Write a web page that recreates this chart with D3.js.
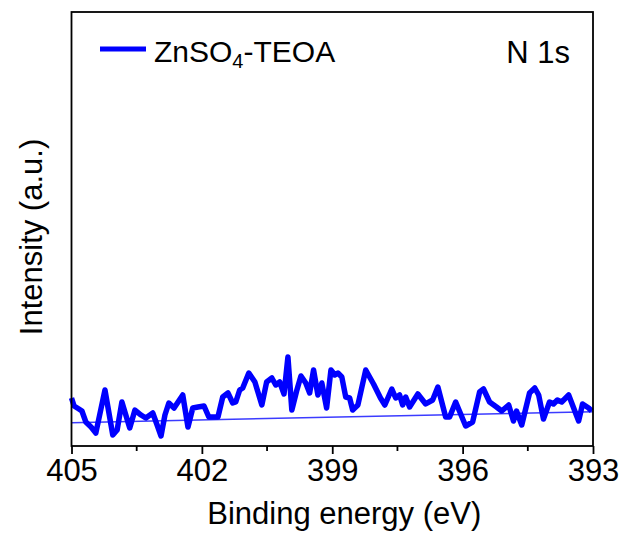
<!DOCTYPE html>
<html>
<head>
<meta charset="utf-8">
<script src="https://cdn.jsdelivr.net/npm/d3@7"></script>
<style>
  html, body { margin: 0; padding: 0; background: #ffffff; }
  svg { display: block; }
  text { font-family: Arial, "Liberation Sans", sans-serif; fill: #000; }
</style>
</head>
<body>
<svg id="chart" width="620" height="533"></svg>
<script>
// ---- data ----
const bindingEnergy = [
  405.00, 404.94, 404.83, 404.76, 404.67, 404.55, 404.44, 404.23, 404.05, 403.95,
  403.84, 403.66, 403.54, 403.40, 403.29, 403.13, 403.03, 402.94, 402.85, 402.76,
  402.64, 402.44, 402.32, 402.21, 402.09, 401.95, 401.84, 401.63, 401.52, 401.40,
  401.29, 401.22, 401.13, 401.06, 400.92, 400.78, 400.62, 400.51, 400.39, 400.30,
  400.21, 400.11, 400.02, 399.93, 399.82, 399.72, 399.61, 399.52, 399.43, 399.33,
  399.24, 399.13, 399.03, 398.94, 398.87, 398.78, 398.69, 398.60, 398.53, 398.41,
  398.23, 398.05, 397.89, 397.79, 397.63, 397.54, 397.45, 397.38, 397.31, 397.22,
  397.03, 396.85, 396.69, 396.57, 396.39, 396.30, 396.16, 395.93, 395.77, 395.61,
  395.52, 395.38, 395.22, 395.10, 394.94, 394.83, 394.76, 394.64, 394.46, 394.34,
  394.25, 394.14, 394.00, 393.91, 393.82, 393.72, 393.56, 393.33, 393.24, 393.10,
  393.03
];
const intensity = [
  11.06, 9.22, 8.53, 8.06, 5.53, 4.38, 3.00, 12.90, 2.53, 3.69,
  10.14, 4.15, 8.29, 7.14, 6.45, 7.60, 4.84, 2.30, 7.14, 9.91,
  8.76, 11.75, 4.38, 8.76, 8.99, 9.22, 6.68, 6.68, 11.29, 12.21,
  9.91, 10.14, 12.90, 13.36, 16.82, 14.75, 9.45, 14.75, 15.67, 14.06,
  14.75, 11.98, 20.51, 8.29, 12.67, 16.13, 14.52, 12.21, 17.51, 11.75,
  14.52, 8.76, 17.51, 16.36, 16.82, 15.90, 11.29, 11.06, 8.29, 9.45,
  17.51, 14.29, 11.06, 9.45, 13.13, 11.06, 11.75, 9.45, 11.29, 8.99,
  11.98, 9.68, 10.60, 13.59, 6.68, 6.68, 10.14, 4.61, 5.53, 12.44,
  13.13, 10.14, 8.99, 8.06, 9.45, 5.76, 8.06, 4.84, 12.21, 13.36,
  11.75, 6.22, 10.14, 9.68, 10.60, 10.14, 11.75, 5.76, 9.68, 8.76,
  8.06
];
const backgroundEnergy = [405, 393];
const backgroundIntensity = [5.37, 7.90];
const xMajorTicks = [405, 402, 399, 396, 393];
const xMinorTicks = [403.5, 400.5, 397.5, 394.5];
const xDomain = [405, 393];
const yDomain = [0, 100];
const seriesName = ["ZnSO", "4", "-TEOA"];
const regionLabel = "N 1s";
const xTitle = "Binding energy (eV)";
const yTitle = "Intensity (a.u.)";

// ---- layout ----
const svg = d3.select("#chart");
const L = 71.5, R = 593, T = 12, B = 446;
const x = d3.scaleLinear().domain(xDomain).range([L, R]);
const y = d3.scaleLinear().domain(yDomain).range([B, T]);

// background line
const bg = backgroundEnergy.map((e, i) => [e, backgroundIntensity[i]]);
svg.append("path")
  .datum(bg)
  .attr("fill", "none")
  .attr("stroke", "#3b3bff")
  .attr("stroke-width", 1.5)
  .attr("d", d3.line().x(d => x(d[0])).y(d => y(d[1])));

// main spectrum
const pts = bindingEnergy.map((e, i) => [e, intensity[i]]);
svg.append("path")
  .datum(pts)
  .attr("fill", "none")
  .attr("stroke", "#0000ff")
  .attr("stroke-width", 5.5)
  .attr("stroke-linejoin", "round")
  .attr("stroke-linecap", "butt")
  .attr("d", d3.line().x(d => x(d[0])).y(d => y(d[1])));

// frame
svg.append("rect")
  .attr("x", L).attr("y", T)
  .attr("width", R - L).attr("height", B - T)
  .attr("fill", "none")
  .attr("stroke", "#000")
  .attr("stroke-width", 1.8);

// x axis
const xAxis = d3.axisBottom(x)
  .tickValues(xMajorTicks)
  .tickSize(8)
  .tickPadding(5)
  .tickFormat(d3.format("d"));
const gx = svg.append("g").attr("transform", `translate(0,${B})`).call(xAxis);
gx.select(".domain").remove();
gx.selectAll(".tick line").attr("stroke", "#000").attr("stroke-width", 1.8);
gx.selectAll(".tick text")
  .style("font-family", "Arial, 'Liberation Sans', sans-serif")
  .style("font-size", "31px")
  .attr("fill", "#000");

svg.append("g").selectAll("line")
  .data(xMinorTicks)
  .join("line")
  .attr("x1", d => x(d)).attr("x2", d => x(d))
  .attr("y1", B).attr("y2", B + 5)
  .attr("stroke", "#000").attr("stroke-width", 1.8);

// axis titles
svg.append("text")
  .attr("x", (L + R) / 2 + 12)
  .attr("y", 524)
  .attr("text-anchor", "middle")
  .style("font-size", "31px")
  .text(xTitle);

svg.append("text")
  .attr("transform", `translate(42,${(T + B) / 2 + 8}) rotate(-90)`)
  .attr("text-anchor", "middle")
  .style("font-size", "31px")
  .text(yTitle);

// legend
svg.append("line")
  .attr("x1", 100).attr("x2", 146)
  .attr("y1", 49).attr("y2", 49)
  .attr("stroke", "#0000ff").attr("stroke-width", 5);

const lt = svg.append("text")
  .attr("x", 154).attr("y", 62)
  .style("font-size", "30px");
lt.append("tspan").text(seriesName[0]);
lt.append("tspan").attr("dy", 6).style("font-size", "20px").text(seriesName[1]);
lt.append("tspan").attr("dy", -6).text(seriesName[2]);

svg.append("text")
  .attr("x", 570).attr("y", 63)
  .attr("text-anchor", "end")
  .style("font-size", "31px")
  .text(regionLabel);
</script>
</body>
</html>
